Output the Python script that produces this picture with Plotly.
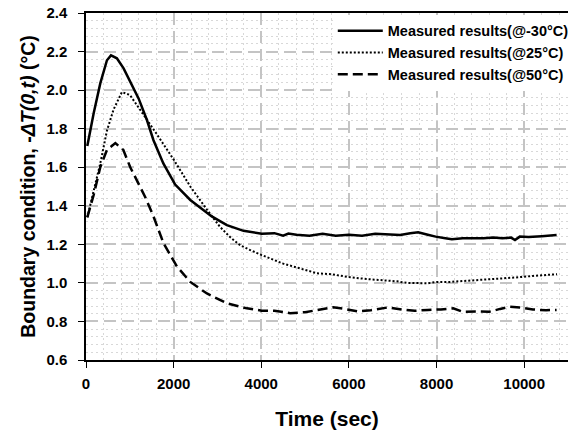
import plotly.graph_objects as go

# Series: measured boundary condition
t_m30 = [30, 175, 326, 478, 570, 705, 858, 1010, 1200, 1390, 1540, 1765, 2035, 2380, 2870, 3215, 3595,
         4010, 4300, 4500, 4620, 4800, 5100, 5400, 5700, 6000, 6300, 6600, 6900, 7170, 7400, 7580, 7800,
         7980, 8200, 8350, 8600, 8800, 9070, 9300, 9500, 9700, 9790, 9900, 10100, 10400, 10740]
v_m30 = [1.71, 1.88, 2.035, 2.155, 2.18, 2.165, 2.113, 2.044, 1.957, 1.845, 1.74, 1.62, 1.51, 1.43, 1.345,
         1.30, 1.27, 1.255, 1.258, 1.245, 1.256, 1.25, 1.245, 1.255, 1.245, 1.25, 1.245, 1.255, 1.25, 1.248,
         1.258, 1.262, 1.25, 1.24, 1.232, 1.226, 1.232, 1.23, 1.231, 1.235, 1.232, 1.235, 1.222, 1.24,
         1.238, 1.242, 1.248]

t_25 = [30, 175, 326, 478, 630, 820, 1000, 1200, 1400, 1620, 2000, 2380, 2760, 3060, 3300, 3520, 3750,
        4000, 4500, 5000, 5270, 5600, 6000, 6400, 6780, 7100, 7320, 7560, 7800, 8000, 8300, 8690, 9000,
        9450, 9800, 10200, 10500, 10750]
v_25 = [1.34, 1.48, 1.62, 1.79, 1.90, 1.99, 1.975, 1.91, 1.84, 1.77, 1.64, 1.50, 1.38, 1.29, 1.235, 1.195,
        1.17, 1.145, 1.10, 1.065, 1.05, 1.045, 1.03, 1.02, 1.015, 1.008, 1.0, 1.0, 0.998, 1.005, 1.005,
        1.011, 1.015, 1.024, 1.028, 1.036, 1.04, 1.045]

t_50 = [30, 175, 326, 478, 670, 850, 1010, 1240, 1350, 1540, 1770, 2075, 2380, 2760, 3215, 3670, 4010,
        4300, 4660, 5000, 5300, 5640, 5900, 6200, 6500, 6900, 7200, 7500, 7800, 8100, 8380, 8600, 8900,
        9200, 9450, 9680, 9900, 10200, 10500, 10740]
v_50 = [1.34, 1.456, 1.60, 1.69, 1.725, 1.69, 1.60, 1.50, 1.446, 1.345, 1.205, 1.085, 1.005, 0.945, 0.894,
        0.868, 0.856, 0.855, 0.843, 0.848, 0.86, 0.873, 0.865, 0.852, 0.858, 0.873, 0.862, 0.855, 0.86,
        0.862, 0.868, 0.85, 0.852, 0.85, 0.865, 0.876, 0.872, 0.862, 0.858, 0.86]

names = ["Measured results(@-30°C)", "Measured results(@25°C)", "Measured results(@50°C)"]

FONT = "Arial, 'Liberation Sans', sans-serif"

fig = go.Figure()
fig.add_trace(go.Scatter(x=t_m30, y=v_m30, mode="lines", name=names[0],
                         line=dict(color="black", width=2.5, dash="solid")))
fig.add_trace(go.Scatter(x=t_25, y=v_25, mode="lines", name=names[1],
                         line=dict(color="black", width=2, dash="2px,2px")))
fig.add_trace(go.Scatter(x=t_50, y=v_50, mode="lines", name=names[2],
                         line=dict(color="black", width=2.5, dash="10px,5px")))

fig.update_layout(
    width=568, height=430,
    margin=dict(l=86, r=0, t=13, b=70, autoexpand=False),
    paper_bgcolor="white", plot_bgcolor="white",
    font=dict(family=FONT, color="black"),
    showlegend=True,
    legend=dict(x=0.512, y=0.995, xanchor="left", yanchor="top",
                bgcolor="white", borderwidth=0, itemwidth=45,
                font=dict(size=14.5, family=FONT, weight="bold"),
                tracegroupgap=0),
)

fig.update_xaxes(
    range=[0, 11000], dtick=2000, tick0=0, tickformat="d",
    automargin=False,
    showline=True, linecolor="black", linewidth=1.5, mirror=True,
    ticks="outside", ticklen=6, tickcolor="black", ticklabelstandoff=3,
    tickfont=dict(size=15, family=FONT, weight="bold"),
    showgrid=True, gridcolor="#c4c4c4", gridwidth=1.5, griddash="12px,6px",
    minor=dict(dtick=400, showgrid=True, gridcolor="#d8d8d8", gridwidth=1, griddash="2px,3px"),
    zeroline=False,
    title=dict(text="Time (sec)", font=dict(size=21, family=FONT, weight="bold"), standoff=25),
)
fig.update_yaxes(
    range=[0.6, 2.4], dtick=0.2, tick0=0.6, tickformat=".1f",
    automargin=False,
    showline=True, linecolor="black", linewidth=1.5, mirror=True,
    ticks="outside", ticklen=6, tickcolor="black", ticklabelstandoff=8,
    tickfont=dict(size=15, family=FONT, weight="bold"),
    showgrid=True, gridcolor="#c4c4c4", gridwidth=1.5, griddash="12px,6px",
    minor=dict(dtick=0.04, showgrid=True, gridcolor="#d8d8d8", gridwidth=1, griddash="2px,3px"),
    zeroline=False,
    title=dict(text="Boundary condition, -<i>ΔT(0,t)</i> (°C)",
               font=dict(size=19.5, family=FONT, weight="bold"), standoff=6),
)

# remove the browser's default 8px body margin so the figure fills the window exactly
fig.write_html("out.html", config={"displayModeBar": False},
               post_script="document.body.style.margin='0';document.body.style.overflow='hidden';")
